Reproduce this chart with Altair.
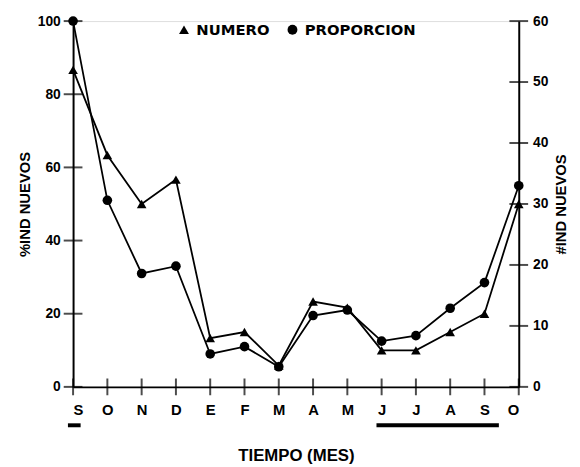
import json
import altair as alt
import pandas as pd

# ---- data ----
meses = ["S", "O", "N", "D", "E", "F", "M", "A", "M", "J", "J", "A", "S", "O"]
numero = [52, 38, 30, 34, 8, 9, 3.5, 14, 13, 6, 6, 9, 12, 30]          # right axis (#IND NUEVOS)
proporcion = [100, 51, 31, 33, 9, 11, 5.5, 19.5, 21, 12.5, 14, 21.5, 28.5, 55]  # left axis (%IND NUEVOS)
ticks_pct = [0, 20, 40, 60, 80, 100]
ticks_num = [0, 10, 20, 30, 40, 50, 60]
series = ["NUMERO", "PROPORCION"]
barra_ini = [-0.15, 8.85]
barra_fin = [0.22, 12.42]

idx = list(range(len(meses)))
df = pd.DataFrame({"i": idx, "mes": meses, "numero": numero, "proporcion": proporcion})
df_ticks_pct = pd.DataFrame({"v": ticks_pct})
df_ticks_num = pd.DataFrame({"v": ticks_num})
df_meses = pd.DataFrame({"i": idx})
df_barras = pd.DataFrame({"ini": barra_ini, "fin": barra_fin})

FONT = "DejaVu Sans"
label_expr = json.dumps(meses) + "[datum.value]"

xscale = alt.Scale(domain=[0, len(meses) - 1], nice=False, zero=False)
x_axis = alt.Axis(values=idx, labelExpr=label_expr, title="TIEMPO (MES)", tickSize=0,
                  labelPadding=16, titlePadding=31, grid=False, domainWidth=2,
                  domainColor="black", labelFontSize=15, titleFontSize=17,
                  labelOverlap=False, labelFontWeight="bold", titleFontWeight="bold")

shape_scale = alt.Scale(domain=series, range=["triangle-up", "circle"])
legend = alt.Legend(orient="none", legendX=105, legendY=1, direction="horizontal", title=None,
                    labelFont=FONT, labelFontWeight="bold", labelFontSize=15, labelColor="black",
                    symbolFillColor="black", symbolStrokeColor="black", symbolSize=100,
                    symbolStrokeWidth=1, columnPadding=15, labelOffset=5)

# ---- left (percentage) ----
yl_scale = alt.Scale(domain=[0, 100], nice=False)
yl_axis = alt.Axis(values=ticks_pct, title="%IND NUEVOS", orient="left", tickSize=0,
                   labelPadding=13, titlePadding=5, grid=False, domainWidth=2,
                   domainColor="black", labelFontSize=14, titleFontSize=15,
                   labelFontWeight="bold", titleFontWeight="bold")
base_p = alt.Chart(df).transform_calculate(serie="'PROPORCION'").encode(
    x=alt.X("i:Q", scale=xscale, axis=x_axis),
    y=alt.Y("proporcion:Q", scale=yl_scale, axis=yl_axis))
line_p = base_p.mark_line(color="black", strokeWidth=1.8)
pts_p = base_p.mark_point(filled=True, color="black", size=95, opacity=1).encode(
    shape=alt.Shape("serie:N", scale=shape_scale, legend=legend))

ticks_left = alt.Chart(df_ticks_pct).mark_tick(orient="horizontal", size=19, thickness=2,
                                                 color="black").encode(
    x=alt.X(datum=0, scale=xscale, axis=x_axis),
    y=alt.Y("v:Q", scale=yl_scale, axis=yl_axis))
ticks_x = alt.Chart(df_meses).mark_tick(orient="vertical", size=17, thickness=2,
                                         color="black").encode(
    x=alt.X("i:Q", scale=xscale, axis=x_axis),
    y=alt.Y(datum=0, scale=yl_scale, axis=yl_axis))
barras = alt.Chart(df_barras).mark_rule(color="black", strokeWidth=4).encode(
    x=alt.X("ini:Q", scale=xscale, axis=x_axis), x2="fin:Q",
    y=alt.Y(datum=-10.5, scale=yl_scale, axis=yl_axis))

left = alt.layer(line_p, pts_p, ticks_left, ticks_x, barras)

# ---- right (number) ----
yr_scale = alt.Scale(domain=[0, 60], nice=False)
yr_axis = alt.Axis(values=ticks_num, title="#IND NUEVOS", orient="right", tickSize=0,
                   labelPadding=14, titlePadding=21, titleAngle=270, grid=False, domainWidth=2,
                   domainColor="black", labelFontSize=14, titleFontSize=15,
                   labelFontWeight="bold", titleFontWeight="bold")
base_n = alt.Chart(df).transform_calculate(serie="'NUMERO'").encode(
    x=alt.X("i:Q", scale=xscale, axis=x_axis),
    y=alt.Y("numero:Q", scale=yr_scale, axis=yr_axis))
line_n = base_n.mark_line(color="black", strokeWidth=1.8)
pts_n = base_n.mark_point(filled=True, color="black", size=95, opacity=1).encode(
    shape=alt.Shape("serie:N", scale=shape_scale, legend=legend))
ticks_right = alt.Chart(df_ticks_num).mark_tick(orient="horizontal", size=19, thickness=2,
                                                  color="black").encode(
    x=alt.X(datum=len(meses) - 1, scale=xscale, axis=x_axis),
    y=alt.Y("v:Q", scale=yr_scale, axis=yr_axis))

right = alt.layer(line_n, pts_n, ticks_right)

chart = alt.layer(left, right).resolve_scale(y="independent").properties(
    width=452, height=371,
    autosize=alt.AutoSizeParams(type="none"),
    padding={"left": 66, "top": 10, "right": 54, "bottom": 78},
).configure_view(stroke=None).configure_axis(
    labelFont=FONT, titleFont=FONT, labelColor="black", titleColor="black",
).configure(background="white")

chart.save("out.html", embed_options={"renderer": "svg", "actions": False})
